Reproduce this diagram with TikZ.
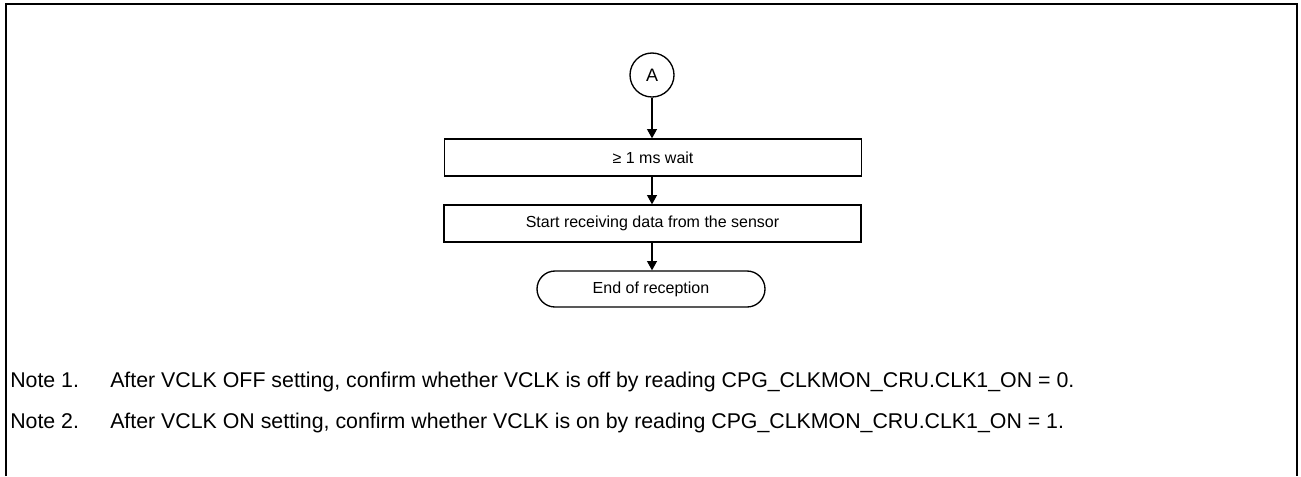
\documentclass[tikz,border=0pt]{standalone}
\usepackage{fontspec}
\setmainfont{Liberation Sans}
\usetikzlibrary{arrows.meta,positioning}

\tikzset{
  flowbox/.style={draw, line width=1pt, minimum width=312.75pt, minimum height=27.75pt, inner sep=0pt, font=\fontsize{12}{14}\selectfont},
  endbox/.style={draw, line width=1pt, rounded corners=13.5pt, minimum width=171pt, minimum height=27pt, inner sep=0pt, font=\fontsize{12}{14}\selectfont},
  connector/.style={circle, draw, line width=1pt, minimum size=33pt, inner sep=0pt, font=\fontsize{13.5}{16}\selectfont},
  flowarrow/.style={-{Triangle[length=7pt,width=7.5pt]}, line width=0.9pt},
  notetext/.style={anchor=base west, inner sep=0pt, font=\fontsize{16}{19}\selectfont},
}

\begin{document}
\begin{tikzpicture}[x=0.75pt,y=-0.75pt]
    \useasboundingbox (0,0) rectangle (1301,476);
    % Frame
    \draw[line width=1.5pt] (6,476) -- (6,4) -- (1297,4) -- (1297,476);
    % Flow
    \node[connector] (conA) at (652,75) {A};
    \node[flowbox] (wait) at (653,157.5) {≥ 1 ms wait};
    \node[flowbox] (recv) at (652.5,223.5) {Start receiving data from the sensor};
    \node[endbox] (finish) at (651,289) {End of reception};
    \draw[flowarrow] (conA.south) -- (conA.south |- wait.north);
    \draw[flowarrow] (conA.south |- wait.south) -- (conA.south |- recv.north);
    \draw[flowarrow] (conA.south |- recv.south) -- (conA.south |- finish.north);
    % Notes
    \node[notetext] (note1) at (10,387) {Note 1.};
    \node[notetext] (note1txt) at (110,387) {After VCLK OFF setting, confirm whether VCLK is off by reading CPG\_CLKMON\_CRU.CLK1\_ON = 0.};
    \node[notetext] (note2) at (10,428) {Note 2.};
    \node[notetext] (note2txt) at (110,428) {After VCLK ON setting, confirm whether VCLK is on by reading CPG\_CLKMON\_CRU.CLK1\_ON = 1.};
\end{tikzpicture}
\end{document}
